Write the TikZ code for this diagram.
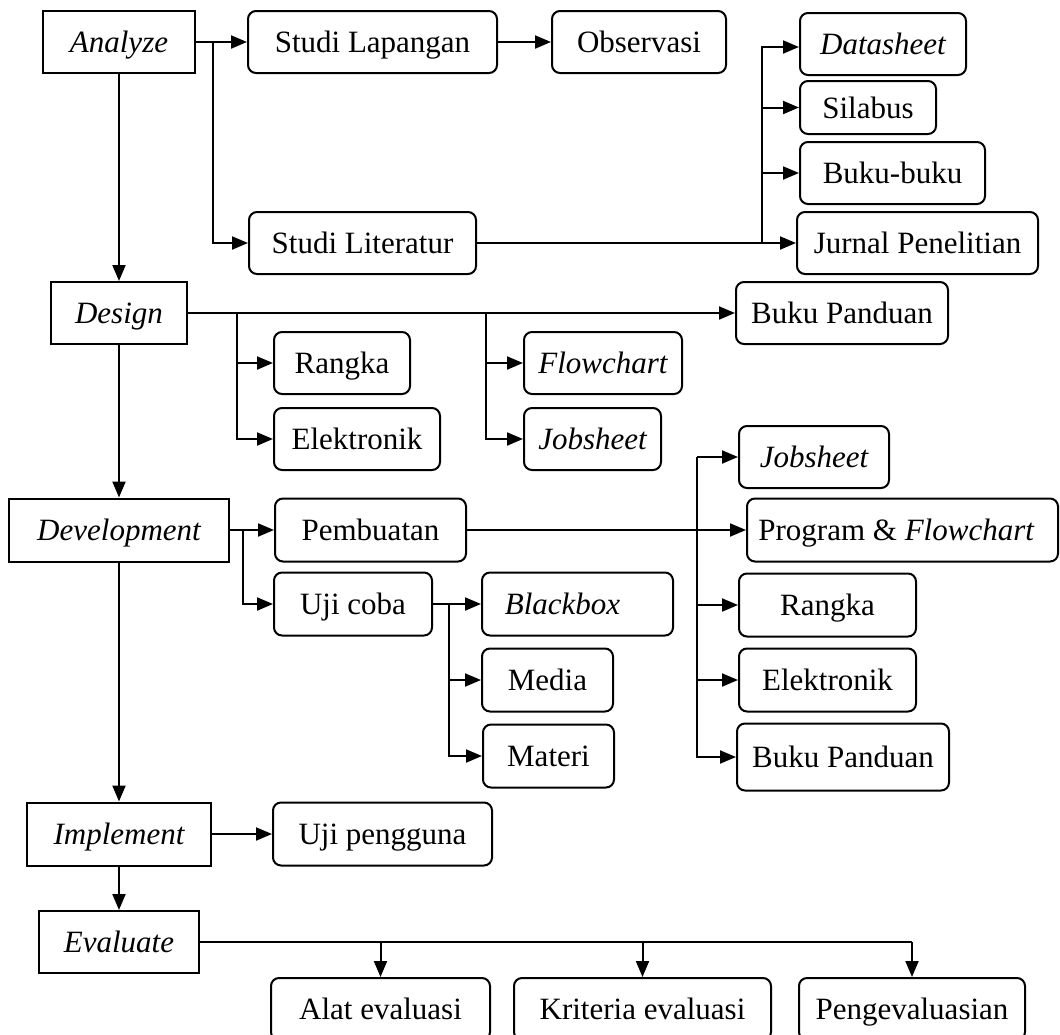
\documentclass[tikz,border=0pt]{standalone}
\usepackage{fontspec}
\setmainfont{Liberation Serif}
\usetikzlibrary{arrows.meta, shapes, calc}

\begin{document}
\fontsize{15.5}{18}\selectfont
\begin{tikzpicture}[x=0.5pt, y=-0.5pt, >={Triangle[length=8pt,width=6.5pt]},
  line width=1pt]
\tikzset{
  phase/.style={draw, rectangle, minimum height=31pt, inner sep=0pt, font=\itshape,
                text height=10.5pt, text depth=0pt},
  item/.style={draw, rounded corners=4pt, minimum height=31pt, inner sep=0pt,
               text height=10.5pt, text depth=0pt}
  };

\clip (0,0) rectangle (1060,1034);

\node[phase, minimum width=76pt] (ana) at (119,42)    {Analyze};
\node[phase, minimum width=68pt] (des) at (119,313)   {Design};
\node[phase, minimum width=110pt, minimum height=31.5pt] (dev) at (119,530) {Development};
\node[phase, minimum width=92pt, minimum height=31.5pt] (imp) at (119,834) {Implement};
\node[phase, minimum width=80pt] (eva) at (119,942)   {Evaluate};

\node[item, minimum width=124.5pt] (lap) at (372.5,42) {Studi Lapangan};
\node[item, minimum width=87pt]    (obs) at (639,42)   {Observasi};
\node[item, minimum width=113.5pt] (lit) at (362.5,243) {Studi Literatur};
\node[item, minimum width=83pt, font=\itshape] (dat) at (883,44) {Datasheet};
\node[item, minimum width=68pt, minimum height=26.5pt] (sil) at (868,107.5) {Silabus};
\node[item, minimum width=92.5pt] (buk) at (892.5,173) {Buku-buku};
\node[item, minimum width=120.5pt] (jur) at (917.5,243) {Jurnal Penelitian};

\node[item, minimum width=106pt] (pan) at (842,313)  {Buku Panduan};
\node[item, minimum width=68pt]  (rk1) at (342,363)  {Rangka};
\node[item, minimum width=83pt]  (el1) at (357,439)  {Elektronik};
\node[item, minimum width=79pt, font=\itshape] (flo) at (603,363) {Flowchart};
\node[item, minimum width=68.5pt, font=\itshape] (job) at (592.5,439) {Jobsheet};

\node[item, minimum width=95.5pt, minimum height=31.5pt] (pem) at (370.5,530) {Pembuatan};
\node[item, minimum width=75pt, font=\itshape] (job2) at (814,457) {Jobsheet};
\node[item, minimum width=155.5pt, minimum height=31.5pt] (prg) at (902.5,530) {Program \& \textit{Flowchart}\hspace*{6pt}};
\node[item, minimum width=79pt, minimum height=31.5pt] (uji) at (353,604) {Uji coba};
\node[item, minimum width=95.5pt, minimum height=31.5pt, font=\itshape] (blk) at (577.5,604) {Blackbox\hspace*{15pt}};
\node[item, minimum width=65.5pt, minimum height=31.5pt] (med) at (547.5,680) {Media};
\node[item, minimum width=65.5pt, minimum height=31.5pt] (mat) at (548.5,756) {Materi};
\node[item, minimum width=88.5pt, minimum height=31.5pt] (rk2) at (827.5,605) {Rangka};
\node[item, minimum width=88.5pt, minimum height=31.5pt] (el2) at (827.5,680) {Elektronik};
\node[item, minimum width=106pt, minimum height=33.5pt] (pan2) at (843,757) {Buku Panduan};

\node[item, minimum width=109.5pt, minimum height=31.5pt] (ujp) at (382.5,834) {Uji pengguna};
\node[item, minimum width=109.5pt] (ala) at (380.5,1009) {Alat evaluasi};
\node[item, minimum width=128.5pt] (kri) at (642.5,1009) {Kriteria evaluasi};
\node[item, minimum width=113pt]   (pen) at (912,1009)   {Pengevaluasian};

\coordinate (a1) at (213,42);
\coordinate (a2) at (762,243);
\coordinate (d1) at (237,313);
\coordinate (d2) at (486,313);
\coordinate (v1) at (243,530);
\coordinate (v2) at (697,457);
\coordinate (v3) at (449,604);

\draw[->] (ana) -- (des);
\draw[->] (des) -- (dev);
\draw[->] (dev) -- (imp);
\draw[->] (imp) -- (eva);

\draw[->] (ana.east) -- (lap.west);
\draw[->] (a1) |- (lit.west);
\draw[->] (lap.east) -- (obs.west);
\draw[->] (lit.east) -- (jur.west);
\draw[->] (a2) |- ($(dat.west)+(0,3)$);
\draw[->] (a2) |- (sil.west);
\draw[->] (a2) |- (buk.west);

\draw[->] (des.east) -- (pan.west);
\draw[->] (d1) |- (rk1.west);
\draw[->] (d1) |- (el1.west);
\draw[->] (d2) |- (flo.west);
\draw[->] (d2) |- (job.west);

\draw[->] (dev.east) -- (pem.west);
\draw[->] (v1) |- (uji.west);
\draw[->] (pem.east) -- (prg.west);
\draw[->] (v2) -- (job2.west);
\draw[->] (v2) |- (rk2.west);
\draw[->] (v2) |- (el2.west);
\draw[->] (v2) |- (pan2.west);
\draw[->] (uji.east) -- (blk.west);
\draw[->] (v3) |- (med.west);
\draw[->] (v3) |- (mat.west);

\draw[->] (imp.east) -- (ujp.west);
\draw (eva.east) -- (eva.east -| pen.north);
\draw[->] (eva.east -| ala.north) -- (ala.north);
\draw[->] (eva.east -| kri.north) -- (kri.north);
\draw[->] (eva.east -| pen.north) -- (pen.north);

\end{tikzpicture}
\end{document}
